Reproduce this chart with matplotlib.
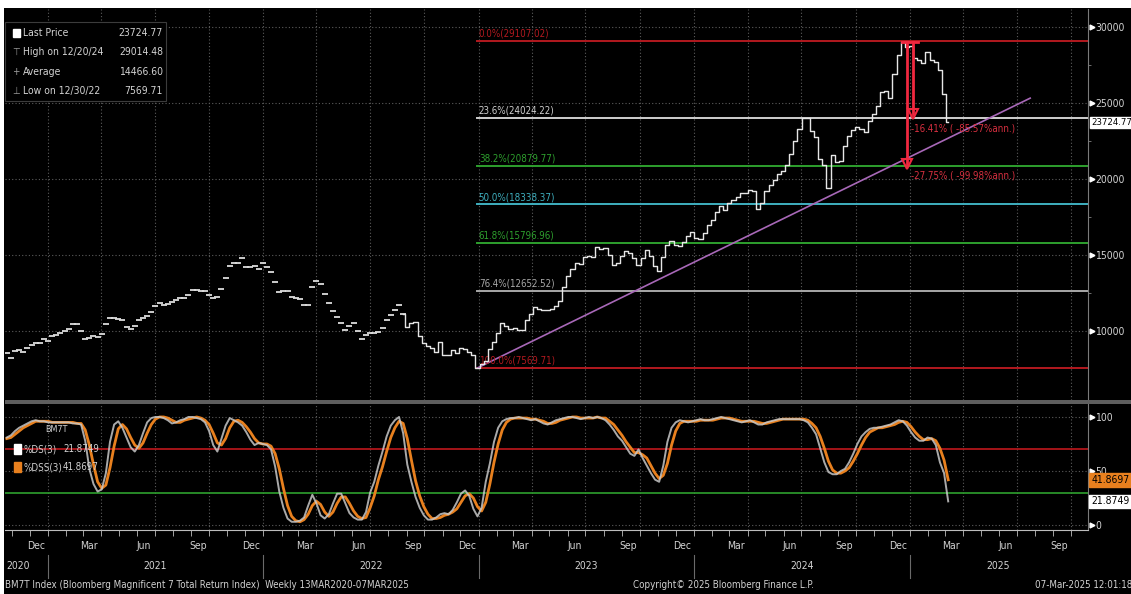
import matplotlib
matplotlib.use('Agg')
import matplotlib.pyplot as plt
import matplotlib.dates as mdates
import matplotlib.transforms as mtransforms
from matplotlib.patches import Rectangle
from matplotlib import font_manager
import pandas as pd

#=====================================================
# data (weekly, Fridays)

week_start = '2020-10-23'
week_end = '2025-03-07'

price = [
    8570, 8200, 8700, 8750, 8600, 8850, 9050, 9210, 9210, 9500,
    9360, 9650, 9750, 9900, 10000, 10100, 10460, 10460, 10000, 9450,
    9550, 9670, 9620, 9800, 10450, 10850, 10850, 10790, 10700, 10250,
    10130, 10350, 10700, 10850, 11000, 11250, 11650, 11840, 11700, 11800,
    11900, 12050, 12170, 12170, 12350, 12700, 12700, 12630, 12630, 12400,
    12170, 12250, 12750, 13500, 14300, 14450, 14500, 14800, 14200, 14200,
    14300, 14100, 14470, 14200, 13880, 13200, 12570, 12650, 12650, 12250,
    12170, 12100, 11700, 11700, 12900, 13300, 13100, 12450, 11850, 11300,
    10900, 10550, 10050, 10300, 10500, 10000, 9450, 9750, 9850, 9850,
    9950, 10200, 10700, 11050, 11350, 11700, 11150, 10250, 10500, 10600,
    9700, 9200, 9000, 8900, 8600, 9250, 8400, 8450, 8770, 8570,
    8850, 8800, 8650, 8400, 7570, 7800, 8050, 8800, 9300, 9850,
    10500, 10300, 10100, 10200, 10050, 10050, 10700, 11100, 11550, 11450,
    11380, 11350, 11450, 11620, 12000, 12900, 13650, 14100, 14450, 14380,
    14850, 14950, 14900, 15500, 15380, 15450, 15000, 14350, 14500, 14950,
    15250, 15100, 14800, 14350, 14800, 15300, 14950, 14250, 13950, 14900,
    15650, 15950, 15650, 15600, 15880, 16250, 16500, 16100, 16050, 16450,
    17000, 17330, 17850, 18250, 17980, 18450, 18620, 18840, 19100, 19100,
    19270, 19180, 18000, 18450, 19200, 19600, 19950, 20350, 20550, 20900,
    21650, 22500, 23300, 24000, 24000, 23150, 22750, 21300, 20900, 19400,
    21600, 21100, 21200, 22200, 22850, 23250, 23400, 23300, 23100, 23800,
    24250, 24800, 25700, 25770, 25350, 26900, 28150, 29014.48, 28700, 28750,
    27950, 27850, 27650, 28350, 27800, 27700, 27200, 25600, 23724.77,
]

pct_ds = [
    81, 83, 87, 90, 92, 94, 96, 97, 96, 96,
    95, 95, 95, 95, 95, 95, 94, 94, 93, 78,
    52, 38, 31, 33, 48, 77, 93, 96, 90, 81,
    72, 68, 74, 85, 95, 99, 100, 100, 99, 97,
    94, 95, 97, 98, 100, 100, 99, 98, 95, 87,
    74, 68, 80, 92, 99, 97, 95, 92, 86, 79,
    74, 76, 75, 74, 70, 54, 31, 16, 6, 3,
    3, 4, 7, 18, 28, 20, 9, 6, 10, 20,
    29, 29, 20, 11, 7, 5, 5, 12, 30, 40,
    55, 68, 82, 92, 97, 100, 85, 56, 40, 26,
    16, 9, 5, 5, 7, 10, 11, 10, 14, 21,
    29, 32, 27, 15, 8, 16, 40, 57, 77, 90,
    96, 98, 99, 99, 100, 99, 98, 97, 98, 96,
    94, 93, 95, 97, 98, 99, 100, 100, 99, 98,
    99, 100, 99, 100, 99, 97, 93, 88, 82, 78,
    72, 66, 64, 70, 62, 55, 48, 42, 40, 55,
    77, 90, 95, 97, 96, 95, 96, 97, 98, 97,
    97, 98, 99, 100, 99, 98, 97, 96, 95, 96,
    97, 95, 93, 93, 95, 96, 97, 98, 98, 98,
    98, 98, 98, 97, 95, 90, 84, 71, 58, 49,
    47, 47, 50, 52, 58, 66, 75, 82, 86, 89,
    90, 90, 91, 92, 93, 95, 97, 96, 92, 86,
    81, 78, 78, 81, 80, 74, 58, 48, 21.8749,
]

pct_dss = [
    80, 81, 84, 87, 90, 92, 94, 96, 96, 96,
    96, 95, 95, 95, 95, 95, 95, 94, 94, 88,
    74, 56, 40, 34, 37, 53, 73, 89, 93, 89,
    81, 74, 71, 76, 85, 93, 98, 100, 100, 99,
    97, 95, 95, 97, 98, 99, 100, 99, 97, 93,
    85, 76, 74, 80, 90, 96, 97, 95, 91, 86,
    80, 76, 75, 75, 73, 66, 52, 34, 18, 8,
    4, 3, 5, 10, 18, 22, 19, 12, 8, 12,
    20, 26, 26, 20, 13, 8, 6, 7, 16, 27,
    42, 54, 68, 81, 90, 96, 94, 80, 60, 41,
    27, 17, 10, 6, 6, 7, 9, 10, 12, 15,
    21, 27, 29, 25, 17, 13, 21, 38, 58, 75,
    88, 95, 98, 99, 99, 99, 99, 98, 98, 97,
    96, 94, 94, 95, 97, 98, 99, 100, 100, 99,
    99, 99, 99, 100, 99, 99, 96, 93, 88, 83,
    77, 72, 67, 67, 65, 62, 55, 48, 43, 46,
    57, 74, 87, 94, 96, 96, 96, 96, 97, 97,
    97, 97, 98, 99, 99, 99, 98, 97, 96, 96,
    96, 96, 95, 94, 94, 95, 96, 97, 98, 98,
    98, 98, 98, 98, 97, 94, 90, 82, 71, 59,
    51, 48, 48, 50, 53, 59, 66, 74, 81, 86,
    88, 90, 90, 91, 92, 93, 95, 96, 95, 91,
    86, 82, 79, 79, 80, 78, 71, 60, 41.8697,
]

fib_pcts = ['0.0%', '23.6%', '38.2%', '50.0%', '61.8%', '76.4%', '100.0%']
fib_levels = [29107.02, 24024.22, 20879.77, 18338.37, 15796.96, 12652.52, 7569.71]
fib_start = '2022-12-30'

trend_dates = ['2022-12-30', '2025-07-24']
trend_values = [7569.71, 25320]

legend_names = ['Last Price', 'High on 12/20/24', 'Average', 'Low on 12/30/22']
legend_values = ['23724.77', '29014.48', '14466.60', '7569.71']

last_price = 23724.77
high_price = 29014.48
drop_levels = [24253, 20963]
drop_texts = ['-16.41% ( -85.57%ann.)', '-27.75% ( -99.98%ann.)']

stoch_names = ['%DS(3)', '%DSS(3)']
stoch_last = [21.8749, 41.8697]

price_ticks = [10000, 15000, 20000, 25000, 30000]
stoch_ticks = [0, 50, 100]
year_labels = ['2020', '2021', '2022', '2023', '2024', '2025']
year_label_dates = ['2020-11-12', '2021-07-02', '2022-07-02', '2023-07-02', '2024-07-02', '2025-05-31']

#=====================================================

W, H = 1131, 594
GRID = dict(color='#5c5c5c', lw=0.8, ls=(0, (1, 2)), zorder=0)
TXT = '#d2d2d2'
RED = '#b3191f'
GREEN = '#2ea02e'
ORANGE = '#e8801e'
MEAS = '#f0283f'
FS = 7

names = {f.name for f in font_manager.fontManager.ttflist}
if 'Liberation Sans Narrow' in names:
    plt.rcParams['font.family'] = ['Liberation Sans Narrow', 'DejaVu Sans']
else:
    plt.rcParams['font.family'] = ['DejaVu Sans']
    plt.rcParams['font.stretch'] = 'condensed'


def fx(px):
    return px / W


def fy(py):
    return 1 - py / H


def main():

    dates = pd.date_range(week_start, week_end, freq='W-FRI')
    n = min(len(dates), len(price), len(pct_ds), len(pct_dss))
    dates = dates[:n]

    fig = plt.figure(figsize=(W / 100, H / 100), dpi=100, facecolor='black')
    ax = fig.add_axes([fx(5), fy(400), fx(1088) - fx(5), fy(9) - fy(400)], facecolor='black')
    ax2 = fig.add_axes([fx(5), fy(530), fx(1088) - fx(5), fy(404) - fy(530)], facecolor='black', sharex=ax)

    plotPrice(ax, dates, n)
    plotStoch(ax2, dates, n)
    decorate(fig, ax, ax2)

    fig.savefig('out.png', dpi=100, facecolor='black')

    return

#-----------------------------------------------------

def plotPrice(ax, dates, n):

    xmin, xmax = pd.Timestamp('2020-10-20'), pd.Timestamp('2025-10-30')
    ax.set_xlim(xmin, xmax)
    ax.set_ylim(5460, 31185)

    for q in pd.date_range('2021-01-01', '2025-10-01', freq='QS'):
        ax.axvline(q, **GRID)
    for t in price_ticks:
        ax.axhline(t, **GRID)

    # fibonacci retracement
    fib_cols = [RED, '#cfcfcf', GREEN, '#3fb0c0', GREEN, '#a8a8a8', RED]
    for pct, lvl, col in zip(fib_pcts, fib_levels, fib_cols):
        ax.plot([pd.Timestamp(fib_start), xmax], [lvl, lvl], color=col, lw=1.4, zorder=1)
        ax.annotate(f'{pct}({lvl:.2f})', (pd.Timestamp(fib_start), lvl), xytext=(1, 1.5),
                    textcoords='offset points', color=col, fontsize=FS, va='bottom', ha='left')

    ax.plot(pd.to_datetime(trend_dates), trend_values, color='#a868b8', lw=1.2, zorder=2)

    # older history shows as flat ticks, newer as bars
    split = 96
    ax.plot(dates[:split + 1], price[:split + 1], ls='none', marker='_', ms=4.5, mew=1.3,
            color='#dcdcdc', zorder=3)
    ax.plot(dates[split:n], price[split:n], color='#e6e6e6', lw=1.0, drawstyle='steps-mid', zorder=3)

    # drawdown measure
    d_a, d_b = pd.Timestamp('2024-12-27'), pd.Timestamp('2025-01-07')
    ax.plot([pd.Timestamp('2024-12-18'), pd.Timestamp('2025-01-14')], [high_price, high_price],
            color=MEAS, lw=2, zorder=4)
    ax.plot([d_a, d_a], [high_price, drop_levels[1]], color=MEAS, lw=2, zorder=4)
    ax.plot([d_b, d_b], [high_price, drop_levels[0]], color=MEAS, lw=2, zorder=4)
    ax.plot([d_b], [drop_levels[0]], marker='v', ms=7, mfc='none', mec=MEAS, mew=1.5, zorder=4)
    ax.plot([d_a], [drop_levels[1]], marker='v', ms=7, mfc='none', mec=MEAS, mew=1.5, zorder=4)
    ax.annotate(drop_texts[0], (d_a, 23355), xytext=(3, 0), textcoords='offset points',
                color='#d83040', fontsize=FS, va='center', ha='left')
    ax.annotate(drop_texts[1], (d_a, 20263), xytext=(3, 0), textcoords='offset points',
                color='#d83040', fontsize=FS, va='center', ha='left')

    # right axis
    ax.yaxis.tick_right()
    ax.set_yticks(price_ticks)
    ax.set_yticks([12500, 17500, 22500, 27500], minor=True)
    ax.tick_params(axis='y', which='major', length=0, pad=5, labelsize=7.5, labelcolor=TXT)
    ax.tick_params(axis='y', which='minor', length=2, color='#808080', direction='out')
    ax.tick_params(axis='x', which='both', length=0, labelbottom=False)
    blend = mtransforms.blended_transform_factory(ax.transAxes, ax.transData)
    ax.plot([1.004] * len(price_ticks), price_ticks, ls='none', marker='>', ms=3.5,
            color='white', transform=blend, clip_on=False)
    ax.text(1.003, last_price, '23724.77', transform=blend, ha='left', va='center', fontsize=6.8,
            color='black', clip_on=False, zorder=6,
            bbox=dict(boxstyle='square,pad=0.12', fc='white', ec='white'))

    for s in ['top', 'left', 'bottom']:
        ax.spines[s].set_visible(False)
    ax.spines['right'].set_color('#7a7a7a')

    return

#-----------------------------------------------------

def plotStoch(ax2, dates, n):

    ax2.set_ylim(-4.6, 112)
    for q in pd.date_range('2021-01-01', '2025-10-01', freq='QS'):
        ax2.axvline(q, **GRID)
    for t in stoch_ticks:
        ax2.axhline(t, **GRID)

    ax2.axhline(70, color='#c0181c', lw=1.2, zorder=1)
    ax2.axhline(30, color=GREEN, lw=1.2, zorder=1)

    ax2.plot(dates, pct_dss[:n], color=ORANGE, lw=2.0, zorder=3)
    ax2.plot(dates, pct_ds[:n], color='#c8c8c8', lw=1.4, alpha=0.85, zorder=3)

    ax2.yaxis.tick_right()
    ax2.set_yticks(stoch_ticks)
    ax2.tick_params(axis='y', length=0, pad=5, labelsize=7.5, labelcolor=TXT)
    blend = mtransforms.blended_transform_factory(ax2.transAxes, ax2.transData)
    ax2.plot([1.004] * len(stoch_ticks), stoch_ticks, ls='none', marker='>', ms=3.5,
             color='white', transform=blend, clip_on=False)
    ax2.text(1.003, stoch_last[1], f'{stoch_last[1]:.4f}', transform=blend, ha='left', va='center',
             fontsize=7.5, color='black', clip_on=False, zorder=6,
             bbox=dict(boxstyle='square,pad=0.18', fc=ORANGE, ec=ORANGE))
    ax2.text(1.003, stoch_last[0], f'{stoch_last[0]:.4f}', transform=blend, ha='left', va='center',
             fontsize=7.5, color='black', clip_on=False, zorder=6,
             bbox=dict(boxstyle='square,pad=0.18', fc='white', ec='white'))

    # x axis: month labels, monthly ticks, years underneath
    label_dates = pd.date_range('2020-12-01', '2025-09-01', freq='QS-DEC') + pd.Timedelta(days=11)
    ax2.set_xticks(label_dates)
    ax2.set_xticklabels([d.strftime('%b') for d in label_dates])
    ax2.xaxis.set_minor_locator(mdates.MonthLocator())
    ax2.tick_params(axis='x', which='major', length=0, pad=8, labelsize=7.5, labelcolor=TXT)
    ax2.tick_params(axis='x', which='minor', length=4, color='#bdbdbd', direction='out')

    xblend = mtransforms.blended_transform_factory(ax2.transData, ax2.transAxes)
    for lab, d in zip(year_labels, year_label_dates):
        ax2.text(pd.Timestamp(d), -0.286, lab, transform=xblend, ha='center', va='center',
                 fontsize=7.5, color=TXT)
    for yr in range(2021, 2026):
        d = pd.Timestamp(f'{yr}-01-01')
        ax2.plot([d, d], [-0.2, -0.38], transform=xblend, color='#6a6a6a', lw=0.8, clip_on=False)

    ax2.spines['top'].set_visible(False)
    ax2.spines['left'].set_visible(False)
    ax2.spines['right'].set_color('#7a7a7a')
    ax2.spines['bottom'].set_color('#bdbdbd')

    return

#-----------------------------------------------------

def decorate(fig, ax, ax2):

    # white screen border and panel divider
    fig.add_artist(Rectangle((0, fy(8)), 1, 1 - fy(8), transform=fig.transFigure,
                             fc='white', ec='none', zorder=10))
    fig.add_artist(Rectangle((0, 0), fx(4), 1, transform=fig.transFigure,
                             fc='white', ec='none', zorder=10))
    fig.add_artist(Rectangle((fx(5), fy(404)), 1 - fx(5), fy(400) - fy(404), transform=fig.transFigure,
                             fc='#5e5e5e', ec='none', zorder=5))

    # price legend box
    fig.add_artist(Rectangle((fx(5), fy(101)), fx(166) - fx(5), fy(22) - fy(101), transform=fig.transFigure,
                             fc='black', ec='#3c3c3c', lw=0.8, zorder=5))
    rows = [33, 52, 72, 91]
    icons = [None, '⊤', '+', '⊥']
    for name, val, py, ic in zip(legend_names, legend_values, rows, icons):
        fig.text(fx(23), fy(py), name, color=TXT, fontsize=7.5, va='center', ha='left', zorder=6)
        fig.text(fx(163), fy(py), val, color=TXT, fontsize=7.5, va='center', ha='right', zorder=6)
        if ic is None:
            fig.add_artist(Rectangle((fx(13), fy(37)), fx(7), fy(0) - fy(8), transform=fig.transFigure,
                                     fc='white', ec='white', zorder=6))
        else:
            fig.text(fx(16), fy(py), ic, color='#9a9a9a', fontsize=7, va='center', ha='center', zorder=6)

    # stochastic legend
    fig.text(fx(57), fy(430), 'BM7T', color=TXT, fontsize=6.5, ha='center', va='center', zorder=6)
    sq_cols = ['white', ORANGE]
    for name, val, py, col in zip(stoch_names, stoch_last, [449, 467], sq_cols):
        fig.add_artist(Rectangle((fx(14), fy(py + 5)), fx(7), fy(0) - fy(10), transform=fig.transFigure,
                                 fc=col, ec=col, zorder=6))
        fig.text(fx(23), fy(py), name, color=TXT, fontsize=7, va='center', ha='left', zorder=6)
        fig.text(fx(63), fy(py), f'{val:.4f}', color=TXT, fontsize=7, va='center', ha='left', zorder=6)

    # footer
    fig.text(fx(5), fy(585), 'BM7T Index (Bloomberg Magnificent 7 Total Return Index)  Weekly 13MAR2020-07MAR2025',
             color=TXT, fontsize=7, va='center', ha='left')
    fig.text(fx(633), fy(585), 'Copyright© 2025 Bloomberg Finance L.P.', color=TXT, fontsize=7,
             va='center', ha='left')
    fig.text(fx(1035), fy(585), '07-Mar-2025 12:01:18', color=TXT, fontsize=7, va='center', ha='left')

    return

#=====================================================

if __name__ == '__main__':
    main()
